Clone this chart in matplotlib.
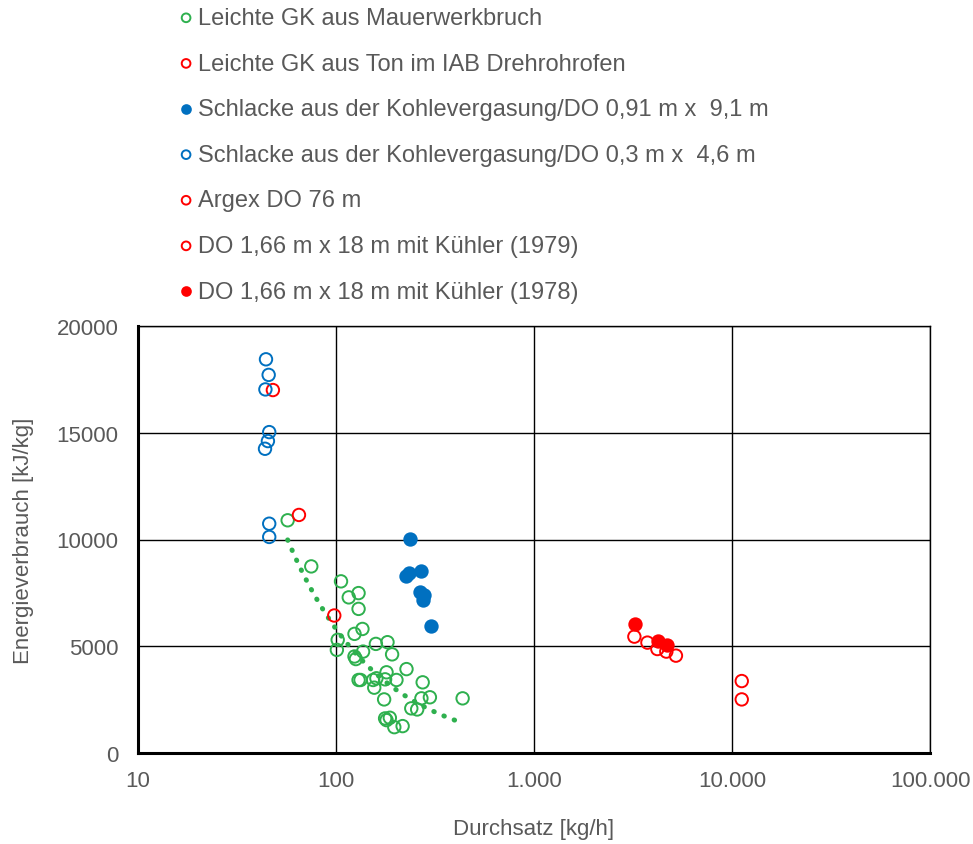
import numpy as np
import matplotlib
matplotlib.use("Agg")
import matplotlib.pyplot as plt
from matplotlib.ticker import FixedLocator, FuncFormatter, NullLocator

plt.rcParams['font.family'] = ['Liberation Sans', 'DejaVu Sans']

# Leichte GK aus Mauerwerkbruch
mw_x = [57, 75, 106, 116, 130, 130, 124, 136, 102, 101, 159, 182, 137, 124, 126,
        192, 227, 180, 160, 130, 133, 154, 156, 177, 202, 274, 270, 298, 240, 257,
        436, 175, 177, 187, 197, 217, 180]
mw_y = [10900, 8740, 8040, 7290, 7490, 6750, 5580, 5810, 5300, 4830, 5110, 5190, 4750, 4520, 4400,
        4620, 3930, 3780, 3500, 3420, 3420, 3420, 3060, 3450, 3420, 3310, 2560, 2610, 2090, 2040,
        2560, 2510, 1620, 1650, 1210, 1260, 1540]

# Leichte GK aus Ton im IAB Drehrohrofen
iab_x = [48, 65, 98]
iab_y = [17000, 11150, 6440]

# Schlacke aus der Kohlevergasung, DO 0,91 m x 9,1 m
sk91_x = [237, 225, 233, 268, 266, 276, 279, 303]
sk91_y = [10040, 8300, 8420, 8530, 7520, 7170, 7400, 5970]

# Schlacke aus der Kohlevergasung, DO 0,3 m x 4,6 m
sk03_x = [44.3, 45.7, 44.0, 46.0, 45.3, 43.8, 46.0, 46.0]
sk03_y = [18440, 17710, 17030, 15030, 14610, 14250, 10740, 10120]

# Argex DO 76 m
argex_x = [11200, 11200]
argex_y = [3370, 2510]

# DO 1,66 m x 18 m mit Kuehler
do79_x = [3213, 3740, 4198, 4660, 5210]
do79_y = [5450, 5170, 4870, 4750, 4560]
do78_x = [3236, 4245, 4700]
do78_y = [6030, 5250, 5050]

GREEN = '#2EB04E'
RED = '#FF0000'
BLUE = '#0070C0'
GREY = '#595959'

fig = plt.figure(figsize=(9.73, 8.45), dpi=100)
ax = fig.add_axes([138 / 973, 1 - 754 / 845, (930 - 138) / 973, (754 - 327) / 845])

ms = 80
lw = 1.4
h1 = ax.scatter(mw_x, mw_y, s=ms, facecolors='none', edgecolors=GREEN, linewidths=lw, zorder=3)
h2 = ax.scatter(iab_x, iab_y, s=ms, facecolors='none', edgecolors=RED, linewidths=lw, zorder=3)
h3 = ax.scatter(sk91_x, sk91_y, s=ms, facecolors=BLUE, edgecolors=BLUE, linewidths=lw, zorder=3)
h4 = ax.scatter(sk03_x, sk03_y, s=ms, facecolors='none', edgecolors=BLUE, linewidths=lw, zorder=3)
h5 = ax.scatter(argex_x, argex_y, s=ms, facecolors='none', edgecolors=RED, linewidths=lw, zorder=3)
h6 = ax.scatter(do79_x, do79_y, s=ms, facecolors='none', edgecolors=RED, linewidths=lw, zorder=3)
h7 = ax.scatter(do78_x, do78_y, s=ms, facecolors=RED, edgecolors=RED, linewidths=lw, zorder=4)

# power trendline through the Mauerwerkbruch points
k, d = np.polyfit(np.log10(mw_x), np.log10(mw_y), 1)
tx = np.logspace(np.log10(min(mw_x)), np.log10(420), 80)
ax.plot(tx, 10 ** (k * np.log10(tx) + d), color=GREEN, lw=3.6,
        linestyle=(0, (0.1, 2.1)), dash_capstyle='round', zorder=2)

ax.set_xscale('log')
ax.set_xlim(10, 100000)
ax.set_ylim(0, 20000)
ax.xaxis.set_major_locator(FixedLocator([10, 100, 1000, 10000, 100000]))
ax.xaxis.set_minor_locator(NullLocator())
ax.xaxis.set_major_formatter(FuncFormatter(lambda v, p: f"{int(round(v)):,}".replace(",", ".")))
ax.set_yticks([0, 5000, 10000, 15000, 20000])
ax.tick_params(length=0, labelsize=16, labelcolor=GREY)
ax.tick_params(axis='x', pad=12)
ax.tick_params(axis='y', pad=14)
ax.grid(True, color='black', lw=1)
for s in ['top', 'right']:
    ax.spines[s].set_linewidth(1)
for s in ['left', 'bottom']:
    ax.spines[s].set_linewidth(2.2)

ax.set_xlabel('Durchsatz [kg/h]', fontsize=16, color=GREY, va='center')
ax.xaxis.set_label_coords(0.5, -(830 - 754) / 427)
ax.set_ylabel('Energieverbrauch [kJ/kg]', fontsize=16, color=GREY, va='center')
ax.yaxis.set_label_coords(-(138 - 24) / 792, 0.5)

labels = ['Leichte GK aus Mauerwerkbruch',
          'Leichte GK aus Ton im IAB Drehrohrofen',
          'Schlacke aus der Kohlevergasung/DO 0,91 m x  9,1 m',
          'Schlacke aus der Kohlevergasung/DO 0,3 m x  4,6 m',
          'Argex DO 76 m',
          'DO 1,66 m x 18 m mit Kühler (1979)',
          'DO 1,66 m x 18 m mit Kühler (1978)']
leg = fig.legend([h1, h2, h3, h4, h5, h6, h7], labels, loc='upper left',
                 bbox_to_anchor=(179 / 973, 1 - 8 / 845), frameon=False,
                 fontsize=17, labelspacing=1.0, handletextpad=0.2,
                 handlelength=0.6, borderpad=0, borderaxespad=0,
                 markerscale=0.7)
for t in leg.get_texts():
    t.set_color(GREY)

fig.savefig('out.png', dpi=100)
